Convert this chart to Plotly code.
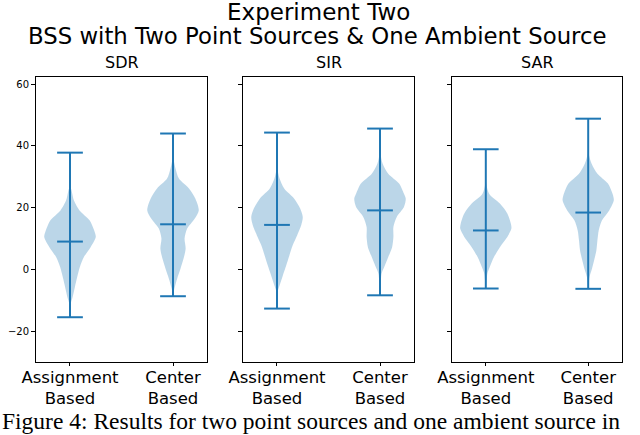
import plotly.graph_objects as go

# ---------------- data ----------------
metrics = ["SDR", "SIR", "SAR"]
methods = ["Assignment<br>Based", "Center<br>Based"]
y_ticks = [-20, 0, 20, 40, 60]

# density profiles (value level, relative width)
sdr_assign_y = [-15.5, -11.0, -9.0, -5.7, -2.5, 0.7, 4.0, 7.2, 10.5, 12.6, 15.9, 19.1, 22.4, 24.0, 25.6, 26.7, 37.8]
sdr_assign_w = [0, 0.03, 0.10, 0.19, 0.28, 0.38, 0.54, 0.80, 1.00, 0.94, 0.76, 0.37, 0.15, 0.10, 0.06, 0.02, 0]
sdr_center_y = [-8.7, -6.3, -3.0, 0.2, 3.5, 6.7, 10.0, 13.2, 16.4, 19.1, 22.9, 26.2, 29.4, 32.6, 35.9, 44.0]
sdr_center_w = [0, 0.05, 0.16, 0.29, 0.41, 0.49, 0.45, 0.55, 0.84, 1.00, 0.87, 0.62, 0.23, 0.10, 0.02, 0]
sir_assign_y = [-12.7, -7.4, -5.2, -1.9, 1.3, 4.5, 7.8, 11.0, 14.3, 17.0, 19.7, 22.9, 26.2, 29.4, 32.6, 44.3]
sir_assign_w = [0, 0.02, 0.10, 0.23, 0.36, 0.48, 0.61, 0.78, 0.94, 1.00, 0.90, 0.67, 0.28, 0.10, 0.02, 0]
sir_center_y = [-8.4, -1.4, 0.7, 4.0, 7.2, 10.5, 13.7, 17.0, 20.2, 22.9, 24.5, 27.8, 31.0, 34.3, 37.5, 45.6]
sir_center_w = [0, 0.06, 0.16, 0.32, 0.47, 0.52, 0.52, 0.65, 0.93, 1.00, 0.93, 0.74, 0.32, 0.10, 0.02, 0]
sar_assign_y = [-6.2, -1.4, 0.7, 4.0, 7.2, 10.5, 13.2, 14.8, 18.1, 21.3, 24.5, 27.8, 38.9]
sar_assign_w = [0, 0.06, 0.15, 0.32, 0.55, 0.84, 1.00, 0.98, 0.84, 0.55, 0.13, 0.02, 0]
sar_center_y = [-6.3, -2.5, -0.3, 2.9, 6.2, 9.4, 12.6, 15.9, 19.1, 22.4, 24.5, 27.8, 31.0, 34.3, 37.5, 48.8]
sar_center_w = [0, 0.05, 0.13, 0.23, 0.32, 0.36, 0.41, 0.54, 0.82, 1.00, 0.95, 0.77, 0.36, 0.13, 0.02, 0]

# extrema and middle bar
mins = {"SDR": [-15.5, -8.7], "SIR": [-12.7, -8.4], "SAR": [-6.2, -6.3]}
maxs = {"SDR": [37.8, 44.0], "SIR": [44.3, 45.6], "SAR": [38.9, 48.8]}
medians = {"SDR": [9.0, 14.6], "SIR": [14.4, 19.1], "SAR": [12.6, 18.4]}

profiles = {
    "SDR": [(sdr_assign_y, sdr_assign_w), (sdr_center_y, sdr_center_w)],
    "SIR": [(sir_assign_y, sir_assign_w), (sir_center_y, sir_center_w)],
    "SAR": [(sar_assign_y, sar_assign_w), (sar_center_y, sar_center_w)],
}

# ---------------- styling ----------------
W, H = 640, 435
C0 = "#1f77b4"
BODY = "rgba(31,119,180,0.3)"
HALF = 0.25      # max half width of a violin body (x units)
CAP = 0.125      # half length of caps / median bar
panels_px = [(36, 207), (243, 414), (452, 622)]
top_px, bot_px = 77, 362
ydom = [(H - bot_px) / H, (H - top_px) / H]

fig = go.Figure()

for i, m in enumerate(metrics):
    xa = "x" if i == 0 else f"x{i+1}"
    ya = "y" if i == 0 else f"y{i+1}"
    for j in range(2):
        pos = j + 1
        ys, ws = profiles[m][j]
        xr = [pos + HALF * w for w in ws]
        xl = [pos - HALF * w for w in ws][::-1]
        fig.add_trace(go.Scatter(
            x=xr + xl, y=list(ys) + list(ys)[::-1],
            mode="lines", fill="toself", fillcolor=BODY,
            line=dict(width=0, shape="spline", smoothing=0.8, color=BODY),
            xaxis=xa, yaxis=ya, showlegend=False, hoverinfo="skip"))
        lo, hi, md = mins[m][j], maxs[m][j], medians[m][j]
        fig.add_trace(go.Scatter(
            x=[pos, pos, None, pos - CAP, pos + CAP, None, pos - CAP, pos + CAP, None, pos - CAP, pos + CAP],
            y=[lo, hi, None, lo, lo, None, hi, hi, None, md, md],
            mode="lines", line=dict(color=C0, width=2),
            xaxis=xa, yaxis=ya, showlegend=False, hoverinfo="skip"))

layout = dict(
    width=W, height=H, margin=dict(l=0, r=0, t=0, b=0, autoexpand=False),
    paper_bgcolor="white", plot_bgcolor="white",
    font=dict(family="DejaVu Sans", color="black"),
    showlegend=False,
)
for i, (a, b) in enumerate(panels_px):
    sfx = "" if i == 0 else str(i + 1)
    layout[f"xaxis{sfx}"] = dict(
        domain=[a / W, b / W], range=[0.67, 2.33], automargin=False,
        tickmode="array", tickvals=[1, 2], ticktext=methods,
        ticks="outside", ticklen=3, tickcolor="black",
        showline=True, linecolor="black", linewidth=1, mirror=True,
        showgrid=False, zeroline=False, tickfont=dict(size=16.5),
        ticklabelstandoff=-3,
        anchor="y" if i == 0 else f"y{i+1}")
    layout[f"yaxis{sfx}"] = dict(
        domain=ydom, range=[-30, 62.3], automargin=False,
        tickmode="array", tickvals=y_ticks,
        ticktext=[str(v).replace("-", "\u2212") for v in y_ticks],
        showticklabels=(i == 0),
        ticks="outside", ticklen=4, tickcolor="black",
        showline=True, linecolor="black", linewidth=1, mirror=True,
        showgrid=False, zeroline=False, tickfont=dict(size=10),
        anchor="x" if i == 0 else f"x{i+1}")
fig.update_layout(**layout)

ann = []
for i, m in enumerate(metrics):
    a, b = panels_px[i]
    ann.append(dict(text=m, x=(a + b) / 2 / W, y=(H - top_px + 3) / H,
                    xref="paper", yref="paper", xanchor="center", yanchor="bottom",
                    showarrow=False, font=dict(size=16)))
ann.append(dict(text="Experiment Two", x=318 / W, y=(H - 12) / H, xref="paper", yref="paper",
                xanchor="center", yanchor="middle", showarrow=False, font=dict(size=23)))
ann.append(dict(text="BSS with Two Point Sources & One Ambient Source", x=317 / W, y=(H - 36) / H,
                xref="paper", yref="paper", xanchor="center", yanchor="middle",
                showarrow=False, font=dict(size=22.8)))
ann.append(dict(text="Figure 4: Results for two point sources and one ambient source in",
                x=0 / W, y=(H - 421) / H, xref="paper", yref="paper",
                xanchor="left", yanchor="middle", showarrow=False,
                font=dict(size=23.5, family="Liberation Serif")))
fig.update_layout(annotations=ann)

fig.write_html("out.html", config={"displayModeBar": False},
               post_script="document.body.style.margin='0';")
